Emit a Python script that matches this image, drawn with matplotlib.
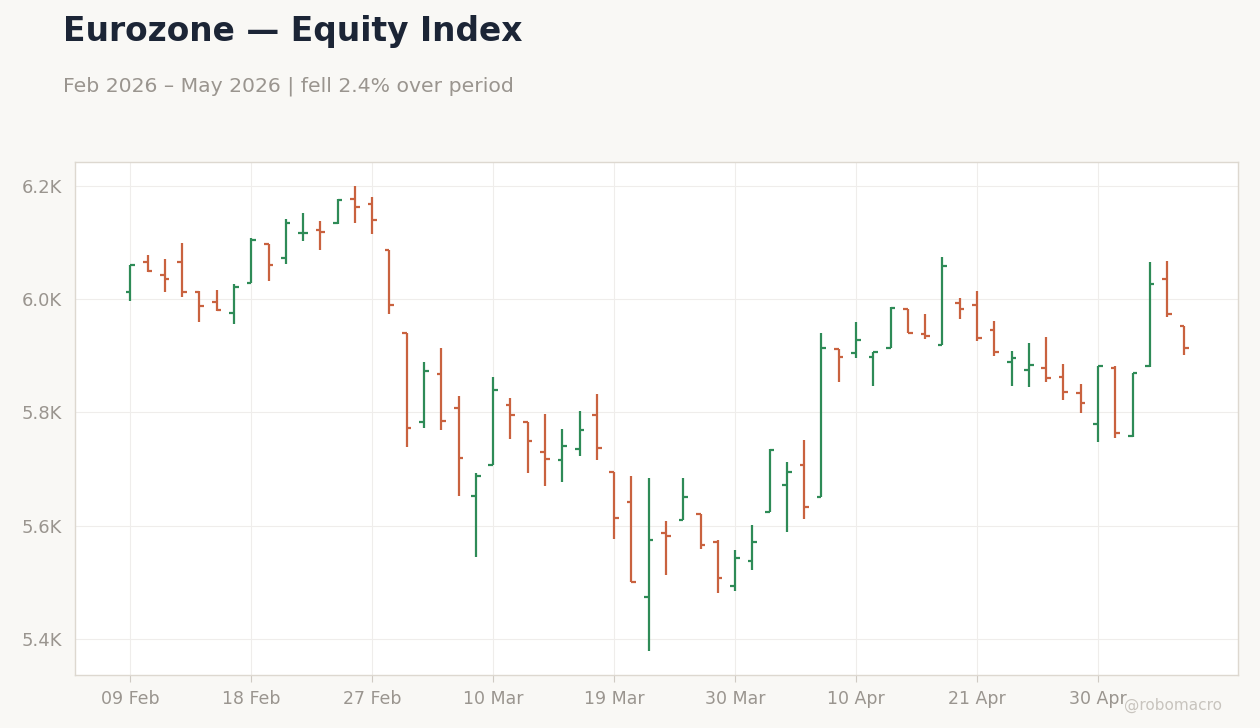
import numpy as np
import pandas as pd
import matplotlib
matplotlib.use("Agg")
import matplotlib.pyplot as plt
from matplotlib.ticker import FuncFormatter

# ---------- data ----------
opens = [6013, 6066, 6043, 6066, 6012, 5994, 5976, 6029, 6098, 6073,
         6116, 6122, 6134, 6177, 6168, 6087, 5940, 5782, 5868, 5807,
         5653, 5706, 5812, 5783, 5729, 5716, 5736, 5796, 5695, 5641,
         5473, 5586, 5609, 5621, 5571, 5494, 5537, 5623, 5672, 5706,
         5650, 5912, 5904, 5897, 5913, 5983, 5939, 5919, 5993, 5989,
         5946, 5889, 5875, 5879, 5863, 5834, 5780, 5879, 5758, 5881,
         6035, 5952]
highs = [6060, 6078, 6071, 6099, 6015, 6016, 6026, 6108, 6098, 6141,
         6152, 6138, 6176, 6200, 6180, 6087, 5940, 5889, 5913, 5829,
         5693, 5862, 5825, 5783, 5797, 5771, 5803, 5833, 5695, 5688,
         5684, 5608, 5684, 5621, 5574, 5557, 5601, 5735, 5712, 5751,
         5940, 5912, 5959, 5907, 5986, 5983, 5974, 6075, 6002, 6015,
         5962, 5909, 5922, 5933, 5885, 5850, 5882, 5881, 5870, 6065,
         6068, 5952]
lows = [5996, 6047, 6013, 6004, 5959, 5979, 5956, 6029, 6031, 6061,
        6102, 6086, 6133, 6135, 6114, 5973, 5738, 5773, 5769, 5653,
        5544, 5706, 5753, 5692, 5670, 5676, 5722, 5715, 5577, 5500,
        5378, 5512, 5609, 5558, 5480, 5485, 5521, 5623, 5589, 5611,
        5650, 5853, 5896, 5847, 5913, 5940, 5929, 5919, 5965, 5925,
        5900, 5846, 5844, 5854, 5822, 5798, 5748, 5755, 5757, 5880,
        5969, 5902]
closes = [6060, 6049, 6036, 6013, 5987, 5980, 6022, 6105, 6060, 6134,
          6117, 6118, 6174, 6163, 6140, 5989, 5773, 5872, 5784, 5720,
          5687, 5839, 5796, 5750, 5718, 5740, 5769, 5737, 5614, 5501,
          5575, 5582, 5650, 5566, 5507, 5542, 5570, 5734, 5694, 5633,
          5914, 5897, 5927, 5906, 5985, 5940, 5934, 6059, 5983, 5932,
          5907, 5895, 5884, 5861, 5836, 5817, 5882, 5764, 5870, 6027,
          5974, 5913]

# trading days (Good Friday / Easter Monday closed)
dates = pd.bdate_range("2026-02-09", periods=len(opens) + 2)
dates = dates[~dates.isin(pd.to_datetime(["2026-04-03", "2026-04-06"]))][:len(opens)]

UP = "#2e8b57"
DOWN = "#c9623f"
GRAY = "#9a958f"

# ---------- figure ----------
fig = plt.figure(figsize=(12.6, 7.28), dpi=100, facecolor="#f9f8f5")
ax = fig.add_axes([0.0595, 0.0728, 0.923, 0.7047])
ax.set_facecolor("white")

x = np.arange(len(opens))
o = np.array(opens)
h = np.array(highs)
l = np.array(lows)
c = np.array(closes)
colors = [UP if cc >= oo else DOWN for oo, cc in zip(o, c)]

w = 0.27
ax.vlines(x, l, h, colors=colors, linewidth=1.6, zorder=3)
ax.hlines(o, x - w, x, colors=colors, linewidth=1.6, zorder=3)
ax.hlines(c, x, x + w, colors=colors, linewidth=1.6, zorder=3)

ax.set_xlim(-3.2, 64.1)
ax.set_ylim(5336, 6242)

tick_idx = list(range(0, len(dates), 7))
ax.set_xticks(tick_idx)
ax.set_xticklabels([dates[i].strftime("%d %b") for i in tick_idx])
ax.set_yticks([5400, 5600, 5800, 6000, 6200])
ax.yaxis.set_major_formatter(FuncFormatter(lambda v, p: f"{v / 1000:.1f}K"))

ax.tick_params(axis="x", colors="#cfcac3", labelcolor=GRAY, labelsize=12.5, length=5, pad=6)
ax.tick_params(axis="y", length=0, labelcolor=GRAY, labelsize=13, pad=9.5)
ax.grid(True, color="#efedeb", linewidth=0.8, zorder=0)
for s in ax.spines.values():
    s.set_color("#ddd8d0")
    s.set_linewidth(1)

fig.text(0.05, 0.957, "Eurozone — Equity Index", fontsize=23.7, fontweight="bold",
         color="#1c2536", va="center", ha="left")
fig.text(0.05, 0.882, "Feb 2026 – May 2026 | fell 2.4% over period", fontsize=14.65,
         color=GRAY, va="center", ha="left")
fig.text(0.97, 0.031, "@robomacro", fontsize=11, color="#c8c4be", ha="right", va="center")

fig.savefig("out.png", dpi=100, facecolor=fig.get_facecolor())
